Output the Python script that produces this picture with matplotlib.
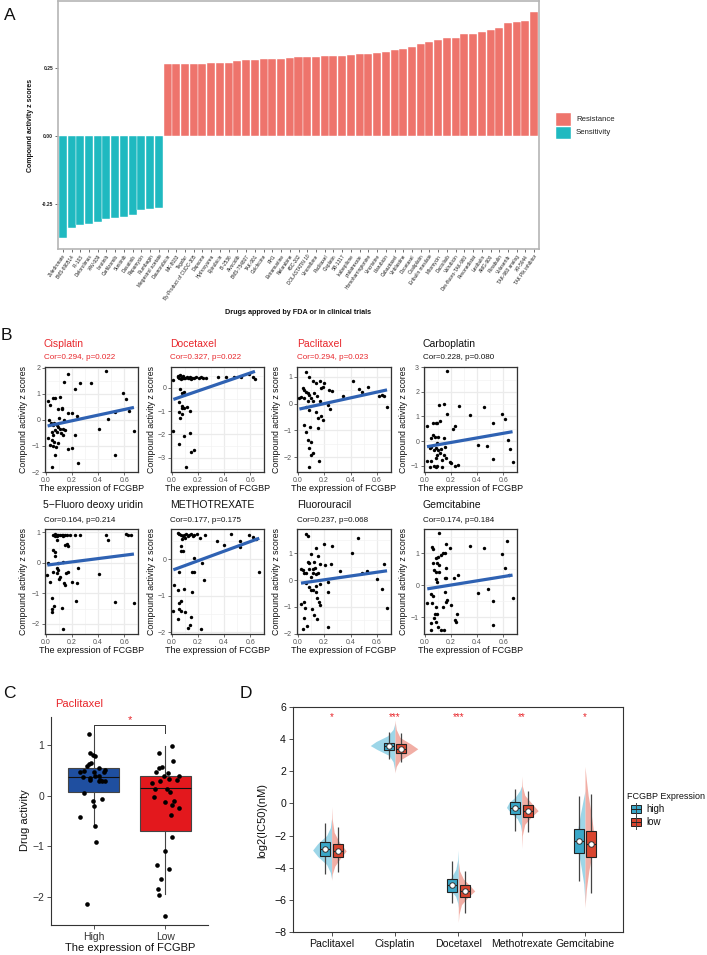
import numpy as np
import matplotlib
matplotlib.use('Agg')
import matplotlib.pyplot as plt
from matplotlib.patches import Rectangle
from matplotlib.ticker import MultipleLocator

plt.rcParams['font.family'] = ['Liberation Sans', 'DejaVu Sans']

# ---------------- DATA ----------------
# Panel A
sens_drugs = ["Zoledronate", "BMS-690514", "PI-103", "Deforolimus", "XAV-939", "Ibrutinib",
              "Carfilzomib", "Sunitinib", "Dasatinib", "Rapamycin", "Plumbagin", "Megestrol acetate"]
sens_vals = [-0.377, -0.340, -0.328, -0.324, -0.316, -0.306, -0.303, -0.298, -0.291, -0.274, -0.271, -0.267]
res_drugs = ["Daunorubicin", "MK-8033", "Tegafur", "By-Product of CUDC-305", "Dapsone", "Hydroxyurea",
             "Epirubicin", "BI-2536", "Alvocidib", "BMS-754807", "TAK-901", "Colchicine", "RH1",
             "Estramustine", "Nelarabine", "4SC-202", "DOLASTATIN 10", "Vinorelbine", "Paclitaxel",
             "Cisplatin", "SB-1317", "Ixabepilone", "pralatrexate", "Homoharringtonine", "Vincristine",
             "Idarubicin", "Cabazitaxel", "Vinblastine", "Docetaxel", "Oxaliplatin", "Eribulin mesilate",
             "Mitomycin", "Dactolisib", "Valrubicin", "Des-fluoro-TAK-960", "Pevonedistat", "Lexibulin",
             "AMG-900", "Plinabulin", "Volasertib", "TAK-960 analog", "XR-5944", "TAK Plk inhibitor"]
res_vals = [0.262, 0.262, 0.263, 0.263, 0.265, 0.266, 0.267, 0.268, 0.276, 0.278, 0.278, 0.281, 0.281,
            0.281, 0.284, 0.289, 0.289, 0.290, 0.293, 0.293, 0.294, 0.297, 0.299, 0.301, 0.303, 0.309,
            0.315, 0.317, 0.325, 0.336, 0.344, 0.350, 0.359, 0.360, 0.373, 0.374, 0.380, 0.390, 0.395,
            0.413, 0.417, 0.422, 0.453]

# Panel B (x = FCGBP expression, y = compound activity z score)
cis_pts = [(0.173,1.76),(0.142,1.44),(0.46,1.86),(0.262,1.40),(0.343,1.43),(0.224,1.17),(0.015,0.74),
           (0.058,0.83),(0.071,0.85),(0.109,0.89),(0.033,0.57),(0.097,0.42),(0.122,0.45),(0.127,0.42),
           (0.173,0.28),(0.198,0.28),(0.104,0.08),(0.142,0.0),(0.236,0.15),(0.028,0.01),(0.041,-0.11),
           (0.066,-0.11),(0.058,-0.2),(0.084,-0.2),(0.091,-0.29),(0.109,-0.35),(0.135,-0.35),(0.147,-0.39),
           (0.071,-0.39),(0.046,-0.45),(0.084,-0.45),(0.117,-0.52),(0.058,-0.58),(0.135,-0.58),(0.224,-0.59),
           (0.015,-0.71),(0.046,-0.77),(0.066,-0.84),(0.097,-0.9),(0.033,-0.96),(0.058,-1.0),(0.076,-1.05),
           (0.168,-1.10),(0.198,-1.06),(0.071,-1.35),(0.407,-0.35),(0.478,0.03),(0.529,0.30),(0.592,1.04),
           (0.613,0.79),(0.636,0.34),(0.674,-0.41),(0.529,-1.35),(0.249,-1.67),(0.046,-1.79)]
doc_pts = [(0.013,0.33),(0.05,0.51),(0.066,0.54),(0.08,0.47),(0.09,0.5),(0.104,0.44),(0.117,0.47),
           (0.13,0.43),(0.142,0.47),(0.155,0.44),(0.168,0.43),(0.186,0.47),(0.206,0.44),(0.224,0.47),
           (0.242,0.44),(0.262,0.43),(0.35,0.47),(0.415,0.47),(0.478,0.47),(0.53,0.47),(0.593,0.57),
           (0.618,0.47),(0.636,0.36),(0.058,0.4),(0.071,0.36),(0.097,0.4),(0.084,0.43),(0.046,0.47),
           (0.122,0.4),(0.147,0.39),(0.064,-0.07),(0.079,-0.24),(0.092,-0.2),(0.058,-0.6),(0.076,-0.79),
           (0.092,-0.86),(0.079,-0.86),(0.117,-0.84),(0.053,-1.06),(0.14,-1.0),(0.066,-1.29),(0.079,-1.14),
           (0.013,-1.86),(0.092,-2.07),(0.142,-1.96),(0.058,-2.41),(0.147,-2.74),(0.168,-2.67),(0.109,-3.39)]
pac_pts = [(0.064,1.2),(0.14,0.79),(0.089,0.99),(0.115,0.86),(0.165,0.86),(0.2,0.79),(0.19,0.64),
           (0.173,0.58),(0.24,0.51),(0.26,0.49),(0.34,0.29),(0.415,0.85),(0.46,0.54),(0.038,0.58),
           (0.05,0.51),(0.064,0.45),(0.076,0.39),(0.089,0.33),(0.025,0.26),(0.013,0.2),(0.05,0.2),
           (0.102,0.2),(0.127,0.41),(0.145,0.29),(0.076,0.1),(0.115,0.11),(0.165,0.1),(0.229,-0.05),
           (0.242,-0.21),(0.064,-0.13),(0.089,-0.23),(0.14,-0.3),(0.173,-0.46),(0.153,-0.54),(0.19,-0.61),
           (0.05,-0.79),(0.094,-0.86),(0.064,-1.04),(0.076,-1.35),(0.102,-1.42),(0.089,-1.66),(0.102,-1.91),
           (0.115,-1.85),(0.153,-0.92),(0.16,-2.14),(0.084,-2.35),(0.534,0.62),(0.484,0.43),(0.618,0.30),
           (0.635,0.32),(0.653,0.30),(0.675,-0.11)]
carbo_pts = [(0.17,2.84),(0.144,1.51),(0.109,1.45),(0.17,1.1),(0.261,1.44),(0.347,1.05),(0.456,1.37),
             (0.59,1.1),(0.613,0.88),(0.524,0.72),(0.018,0.61),(0.063,0.72),(0.084,0.75),(0.096,0.75),
             (0.114,0.83),(0.235,0.63),(0.22,0.49),(0.063,0.24),(0.076,0.18),(0.051,0.11),(0.101,0.15),
             (0.144,0.13),(0.094,-0.1),(0.084,-0.3),(0.051,-0.23),(0.038,-0.3),(0.068,-0.36),(0.101,-0.36),
             (0.127,-0.34),(0.152,-0.26),(0.114,-0.5),(0.094,-0.57),(0.147,-0.57),(0.165,-0.7),(0.089,-0.7),
             (0.134,-0.77),(0.19,-0.84),(0.203,-0.91),(0.051,-0.8),(0.018,-0.81),(0.043,-1.04),(0.068,-1.02),
             (0.084,-1.04),(0.094,-1.02),(0.134,-1.04),(0.228,-1.0),(0.253,-0.97),(0.405,-0.18),(0.476,-0.2),
             (0.524,-0.75),(0.633,0.06),(0.651,-0.32),(0.671,-0.87)]
fdu_pts = [(0.058,0.91),(0.071,0.93),(0.084,0.91),(0.097,0.91),(0.109,0.91),(0.122,0.91),(0.135,0.91),
           (0.147,0.91),(0.160,0.91),(0.186,0.91),(0.224,0.91),(0.262,0.91),(0.46,0.91),(0.613,0.94),
           (0.631,0.91),(0.649,0.91),(0.071,0.88),(0.089,0.88),(0.131,0.88),(0.478,0.75),(0.089,0.75),
           (0.16,0.61),(0.173,0.55),(0.15,0.59),(0.058,0.42),(0.071,0.37),(0.071,0.23),(0.135,0.04),
           (0.097,-0.01),(0.02,-0.01),(0.058,-0.29),(0.084,-0.34),(0.097,-0.23),(0.168,-0.29),(0.155,-0.34),
           (0.249,-0.18),(0.089,-0.18),(0.013,-0.4),(0.033,-0.61),(0.104,-0.54),(0.109,-0.47),(0.142,-0.67),
           (0.198,-0.64),(0.236,-0.65),(0.147,-0.72),(0.407,-0.37),(0.046,-1.16),(0.231,-1.24),(0.046,-1.52),
           (0.046,-1.6),(0.066,-1.41),(0.122,-1.49),(0.529,-1.29),(0.674,-1.32),(0.135,-2.17)]
mtx_pts = [(0.046,0.71),(0.058,0.69),(0.071,0.67),(0.084,0.64),(0.097,0.67),(0.109,0.69),(0.122,0.64),
           (0.135,0.67),(0.147,0.69),(0.16,0.64),(0.173,0.67),(0.191,0.69),(0.219,0.58),(0.257,0.67),
           (0.343,0.51),(0.402,0.39),(0.455,0.69),(0.522,0.51),(0.522,0.33),(0.593,0.67),(0.618,0.62),
           (0.644,0.56),(0.079,0.55),(0.099,0.58),(0.074,0.37),(0.084,0.24),(0.071,0.24),(0.168,0.03),
           (0.058,-0.34),(0.155,-0.34),(0.168,-0.36),(0.232,-0.09),(0.249,-0.57),(0.669,-0.36),(0.02,-0.7),
           (0.046,-0.84),(0.097,-0.81),(0.155,-0.89),(0.071,-1.14),(0.058,-1.21),(0.013,-1.41),(0.058,-1.37),
           (0.071,-1.41),(0.099,-1.46),(0.147,-1.57),(0.046,-1.64),(0.122,-1.89),(0.14,-1.8),(0.224,-1.92)]
fu_pts = [(0.064,1.72),(0.076,1.66),(0.14,1.21),(0.196,1.34),(0.262,1.29),(0.102,0.96),(0.153,0.9),
          (0.076,0.69),(0.089,0.63),(0.127,0.66),(0.165,0.59),(0.204,0.56),(0.249,0.59),(0.025,0.4),
          (0.043,0.38),(0.089,0.4),(0.115,0.4),(0.132,0.44),(0.05,0.25),(0.064,0.28),(0.115,0.28),
          (0.102,0.13),(0.135,0.22),(0.153,0.25),(0.064,-0.12),(0.084,-0.25),(0.102,-0.35),(0.135,-0.21),
          (0.165,-0.16),(0.229,-0.08),(0.115,-0.37),(0.318,0.35),(0.148,-0.68),(0.158,-0.8),(0.17,-0.93),
          (0.14,-0.43),(0.025,-0.89),(0.05,-0.83),(0.059,-1.05),(0.107,-1.09),(0.127,-1.3),(0.145,-1.45),
          (0.05,-1.43),(0.068,-1.72),(0.043,-1.84),(0.229,-1.76),(0.229,-0.43),(0.407,1.0),(0.458,1.56),
          (0.484,0.25),(0.527,0.34),(0.598,0.03),(0.636,-0.34),(0.649,0.59),(0.675,-1.03)]
gem_pts = [(0.109,1.63),(0.058,1.21),(0.063,1.13),(0.165,1.28),(0.195,1.16),(0.347,1.23),(0.456,1.16),
           (0.628,1.4),(0.59,0.97),(0.613,0.55),(0.641,0.31),(0.084,0.84),(0.101,0.9),(0.127,0.95),
           (0.139,1.0),(0.152,1.0),(0.094,0.71),(0.109,0.64),(0.063,0.69),(0.068,0.48),(0.084,0.43),
           (0.106,0.41),(0.165,0.53),(0.089,0.19),(0.094,0.11),(0.152,0.22),(0.165,0.24),(0.223,0.22),
           (0.258,0.32),(0.02,-0.56),(0.051,-0.27),(0.063,-0.33),(0.152,-0.2),(0.058,-0.56),(0.084,-0.69),
           (0.139,-0.69),(0.17,-0.46),(0.16,-0.51),(0.198,-0.61),(0.076,-0.9),(0.094,-0.9),(0.246,-0.91),
           (0.071,-1.03),(0.084,-1.14),(0.228,-1.08),(0.241,-1.14),(0.051,-1.19),(0.101,-1.31),(0.046,-1.38),
           (0.127,-1.38),(0.147,-1.38),(0.405,-0.23),(0.481,-0.11),(0.524,-0.49),(0.524,-1.24),(0.671,-0.39)]

b_titles = ["Cisplatin", "Docetaxel", "Paclitaxel", "Carboplatin",
            "5\u2212Fluoro deoxy uridin", "METHOTREXATE", "Fluorouracil", "Gemcitabine"]
b_cor = ["Cor=0.294, p=0.022", "Cor=0.327, p=0.022", "Cor=0.294, p=0.023", "Cor=0.228, p=0.080",
         "Cor=0.164, p=0.214", "Cor=0.177, p=0.175", "Cor=0.237, p=0.068", "Cor=0.174, p=0.184"]
b_significant = [True, True, True, False, False, False, False, False]
fit_intercept = [-0.25, -0.525, -0.214, -0.247, -0.078, -0.307, -0.129, -0.123]
fit_slope = [1.08, 1.93, 1.08, 0.934, 0.546, 1.32, 0.71, 0.66]
b_ylims = [(-2.0, 2.03), (-3.61, 0.89), (-2.55, 1.37), (-1.26, 3.01),
           (-2.33, 1.11), (-2.05, 0.83), (-2.01, 1.91), (-1.52, 1.76)]

# Panel C
c_groups = ["High", "Low"]
c_q1 = [0.07, -0.70]
c_med = [0.37, 0.15]
c_q3 = [0.54, 0.39]
c_whislo = [-0.61, -1.94]
c_whishi = [1.21, 0.97]
c_high_pts = [(0.93,1.21),(0.95,0.85),(0.99,0.8),(1.01,0.78),(0.93,0.62),(0.96,0.64),(0.91,0.59),
              (1.07,0.54),(0.81,0.47),(0.86,0.49),(1.0,0.47),(1.16,0.51),(1.14,0.46),(0.85,0.36),
              (0.95,0.34),(1.01,0.39),(1.07,0.38),(0.94,0.3),(1.07,0.28),(1.12,0.28),(1.15,0.28),
              (1.09,0.31),(0.86,0.05),(0.99,-0.1),(1.12,-0.07),(1.0,-0.2),(0.8,-0.43),(1.01,-0.59),
              (1.03,-0.91),(0.91,-2.14)]
c_low_pts = [(2.1,0.97),(1.91,0.84),(2.11,0.68),(1.91,0.54),(1.95,0.56),(1.87,0.47),(2.04,0.44),
             (2.19,0.39),(1.98,0.38),(1.93,0.29),(2.06,0.32),(2.17,0.31),(1.82,0.24),(2.02,0.14),
             (1.86,0.13),(2.07,0.08),(1.85,-0.02),(2.12,-0.11),(2.0,-0.12),(2.09,-0.18),(2.2,-0.25),
             (2.08,-0.39),(2.1,-0.81),(2.0,-1.1),(1.89,-1.37),(2.06,-1.45),(1.94,-1.64),(1.9,-1.85),
             (1.92,-1.95),(2.0,-2.37)]

# Panel D
d_drugs = ["Paclitaxel", "Cisplatin", "Docetaxel", "Methotrexate", "Gemcitabine"]
d_sig = ["*", "***", "***", "**", "*"]
high_q1 = [-3.28, 3.31, -5.49, -0.68, -3.07]
high_mean = [-2.82, 3.58, -5.07, -0.27, -2.32]
high_q3 = [-2.39, 3.79, -4.70, 0.10, -1.62]
high_lo = [-4.39, 2.79, -6.21, -1.72, -4.81]
high_hi = [-1.20, 4.45, -3.56, 0.87, 0.45]
low_q1 = [-3.35, 3.14, -5.80, -0.83, -3.32]
low_mean = [-2.94, 3.41, -5.45, -0.44, -2.53]
low_q3 = [-2.55, 3.68, -5.07, -0.11, -1.72]
low_lo = [-4.25, 2.58, -6.83, -1.78, -5.55]
low_hi = [-1.45, 4.38, -4.19, 0.78, 0.58]
# half-violin profiles (y, half width)
viol_high = [
    [(-0.9,0),(-1.5,0.02),(-2.0,0.08),(-2.5,0.22),(-2.9,0.30),(-3.3,0.22),(-3.8,0.08),(-4.3,0.02),(-4.7,0)],
    [(5.0,0),(4.6,0.03),(4.2,0.12),(3.85,0.30),(3.6,0.39),(3.35,0.28),(3.0,0.10),(2.6,0.03),(2.0,0)],
    [(-2.9,0),(-3.5,0.01),(-4.1,0.04),(-4.6,0.11),(-5.0,0.18),(-5.4,0.12),(-5.8,0.04),(-6.2,0.01),(-6.5,0)],
    [(1.1,0),(0.8,0.03),(0.4,0.10),(0.05,0.20),(-0.25,0.24),(-0.6,0.17),(-0.95,0.07),(-1.35,0.02),(-1.8,0)],
    [(0.8,0),(0.2,0.03),(-0.6,0.07),(-1.5,0.11),(-2.3,0.13),(-3.1,0.10),(-4.0,0.06),(-5.0,0.02),(-6.2,0)],
]
viol_low = [
    [(-0.2,0),(-1.0,0.01),(-1.8,0.04),(-2.4,0.12),(-2.95,0.23),(-3.4,0.14),(-3.9,0.05),(-4.4,0.01),(-4.8,0)],
    [(5.2,0),(4.6,0.02),(4.1,0.08),(3.7,0.25),(3.4,0.36),(3.1,0.25),(2.7,0.08),(2.3,0.02),(1.9,0)],
    [(-3.6,0),(-4.2,0.02),(-4.7,0.08),(-5.1,0.18),(-5.45,0.26),(-5.8,0.16),(-6.3,0.05),(-6.9,0.01),(-7.4,0)],
    [(1.7,0),(1.1,0.01),(0.5,0.05),(0.0,0.16),(-0.45,0.26),(-0.85,0.15),(-1.3,0.05),(-2.0,0.01),(-2.8,0)],
    [(2.3,0),(1.5,0.02),(0.5,0.05),(-0.7,0.10),(-1.9,0.14),(-3.0,0.12),(-4.2,0.06),(-5.4,0.02),(-6.5,0)],
]

# ---------------- FIGURE ----------------
W, H = 707, 955
fig = plt.figure(figsize=(W / 100, H / 100), dpi=100)


def add_ax(x0, y0, x1, y1):
    return fig.add_axes([x0 / W, 1 - y1 / H, (x1 - x0) / W, (y1 - y0) / H])


RED_A, TEAL_A = '#EE746C', '#1FB9C0'
SIGRED = '#E8262B'

# ---- Panel A ----
axA = add_ax(58, 1.5, 539, 249)
vals = np.array(sens_vals + res_vals)
names = sens_drugs + res_drugs
cols = [TEAL_A] * len(sens_vals) + [RED_A] * len(res_vals)
xs = np.arange(len(vals))
axA.bar(xs, vals, width=0.92, color=cols, edgecolor='white', linewidth=0.3)
axA.set_xlim(-0.55, len(vals) - 0.45)
axA.set_ylim(-0.4165, 0.493)
axA.set_yticks([-0.25, 0, 0.25])
axA.set_yticklabels(['-0.25', '0.00', '0.25'], fontsize=3.6, fontweight='bold', color='#222222')
axA.set_xticks(xs)
axA.set_xticklabels(names, rotation=55, ha='right', va='top', rotation_mode='anchor',
                    fontsize=3.4, color='#1A1A1A')
axA.tick_params(axis='both', length=2, width=0.5, color='#333333', pad=1.5)
for s in axA.spines.values():
    s.set_color('#B5B5B5')
    s.set_linewidth(1.2)

# ---- Panel B ----
b_sets = [cis_pts, doc_pts, pac_pts, carbo_pts, fdu_pts, mtx_pts, fu_pts, gem_pts]
col_x = [(45, 138), (171, 264), (297, 391), (424, 517)]
row_y = [(367, 472), (529, 634)]
title_y = [344, 505]
cor_y = [357.3, 520]
for i, pts in enumerate(b_sets):
    r, c = divmod(i, 4)
    x0, x1 = col_x[c]
    y0, y1 = row_y[r]
    ax = add_ax(x0, y0, x1, y1)
    arr = np.array(pts)
    ax.set_axisbelow(True)
    ax.grid(True, which='major', color='#EBEBEB', lw=0.9)
    ax.grid(True, which='minor', color='#F3F3F3', lw=0.5)
    ax.scatter(arr[:, 0], arr[:, 1], s=6, color='black', linewidths=0, zorder=3)
    lx = np.array([arr[:, 0].min(), arr[:, 0].max()])
    ax.plot(lx, fit_intercept[i] + fit_slope[i] * lx, color='#2F62B3', lw=2.3,
            solid_capstyle='butt', zorder=4)
    ax.set_xlim(-0.005, 0.705)
    ax.set_ylim(*b_ylims[i])
    ax.set_xticks([0, 0.2, 0.4, 0.6])
    ax.set_xticklabels(['0.0', '0.2', '0.4', '0.6'])
    ax.yaxis.set_major_locator(MultipleLocator(1))
    ax.yaxis.set_minor_locator(MultipleLocator(0.5))
    ax.xaxis.set_minor_locator(MultipleLocator(0.1))
    ax.tick_params(which='major', length=2, width=0.5, color='#333333', labelsize=5,
                   labelcolor='#555555', pad=1.5)
    ax.tick_params(which='minor', length=0)
    for s in ax.spines.values():
        s.set_color('#333333')
        s.set_linewidth(0.9)

# ---- Panel C ----
axC = add_ax(51, 717, 208, 925)
statsC = [dict(med=c_med[k], q1=c_q1[k], q3=c_q3[k], whislo=c_whislo[k], whishi=c_whishi[k],
               fliers=[], label=c_groups[k]) for k in range(2)]
bpC = axC.bxp(statsC, positions=[1, 2], widths=0.71, patch_artist=True, showfliers=False,
              showcaps=False,
              boxprops=dict(edgecolor='#444444', linewidth=0.8),
              medianprops=dict(color='#111111', linewidth=0.8),
              whiskerprops=dict(color='#444444', linewidth=0.8))
for patch, fc in zip(bpC['boxes'], ['#1F4FA0', '#E3181D']):
    patch.set_facecolor(fc)
for pts in (c_high_pts, c_low_pts):
    a = np.array(pts)
    axC.scatter(a[:, 0], a[:, 1], s=11, color='black', linewidths=0, zorder=5)
axC.set_xlim(0.4, 2.6)
axC.set_ylim(-2.55, 1.55)
axC.set_yticks([-2, -1, 0, 1])
axC.set_xticks([1, 2])
axC.set_xticklabels(c_groups)
axC.tick_params(length=3, width=0.6, color='#333333', labelsize=7.5, labelcolor='#333333', pad=2)
for s in ['top', 'right']:
    axC.spines[s].set_visible(False)
for s in ['left', 'bottom']:
    axC.spines[s].set_color('#333333')
    axC.spines[s].set_linewidth(0.8)
# significance bracket
axC.plot([1, 1, 2, 2], [1.24, 1.39, 1.39, 1.24], color='#333333', lw=0.7, clip_on=False)
axC.text(1.5, 1.40, '*', color=SIGRED, fontsize=8, ha='center', va='bottom')

# ---- Panel D ----
axD = add_ax(293, 707, 623, 932)
BLUE_BOX, RED_BOX = '#3AA7C8', '#D9452F'
BLUE_V, RED_V = '#93D2E6', '#F0A59B'
for k in range(len(d_drugs)):
    c = k + 1
    vh = np.array(viol_high[k])
    vl = np.array(viol_low[k])
    axD.fill_betweenx(vh[:, 0], c - vh[:, 1], c, color=BLUE_V, lw=0, alpha=0.9, zorder=1)
    axD.fill_betweenx(vl[:, 0], c, c + vl[:, 1], color=RED_V, lw=0, alpha=0.9, zorder=1)
    axD.text(c, 5.38, d_sig[k], color=SIGRED, fontsize=7, ha='center', va='center')
pos_h = np.arange(1, len(d_drugs) + 1) - 0.1
pos_l = np.arange(1, len(d_drugs) + 1) + 0.1
axD.vlines(pos_h, high_lo, high_hi, color='#444444', lw=0.9, zorder=2)
axD.vlines(pos_l, low_lo, low_hi, color='#444444', lw=0.9, zorder=2)
statsH = [dict(med=high_mean[k], q1=high_q1[k], q3=high_q3[k], whislo=high_q1[k], whishi=high_q3[k],
               fliers=[]) for k in range(5)]
statsL = [dict(med=low_mean[k], q1=low_q1[k], q3=low_q3[k], whislo=low_q1[k], whishi=low_q3[k],
               fliers=[]) for k in range(5)]
for st, pos, fc in ((statsH, pos_h, BLUE_BOX), (statsL, pos_l, RED_BOX)):
    bp = axD.bxp(st, positions=pos, widths=0.16, patch_artist=True, showfliers=False,
                 showcaps=False, manage_ticks=False,
                 boxprops=dict(edgecolor='#222222', linewidth=0.8, facecolor=fc),
                 medianprops=dict(color='#222222', linewidth=0.8),
                 whiskerprops=dict(linewidth=0))
    for b in bp['boxes']:
        b.set_zorder(3)
    for m in bp['medians']:
        m.set_zorder(3)
axD.plot(pos_h, high_mean, 'o', ms=4, mfc='white', mec='#333333', mew=0.7, zorder=4)
axD.plot(pos_l, low_mean, 'o', ms=4, mfc='white', mec='#333333', mew=0.7, zorder=4)
axD.set_xlim(0.39, 5.6)
axD.set_ylim(-8, 6)
axD.set_yticks(np.arange(-8, 7, 2))
axD.set_xticks(np.arange(1, 6))
axD.set_xticklabels(d_drugs)
axD.tick_params(length=3, width=0.6, color='#333333', labelsize=7.6, labelcolor='#111111', pad=2)
for s in axD.spines.values():
    s.set_color('#333333')
    s.set_linewidth(0.8)

# ---- Overlay for annotations ----
ov = fig.add_axes([0, 0, 1, 1])
ov.set_xlim(0, W)
ov.set_ylim(H, 0)
ov.axis('off')
ov.patch.set_alpha(0)

# panel letters
for L, (x, y) in zip("ABCD", [(4, 15), (1, 335), (3, 693), (240, 693)]):
    ov.text(x, y, L, fontsize=12.5, ha='left', va='center', color='#111111')

# A labels and legend
ov.text(298, 312, "Drugs approved by FDA or in clinical trials", fontsize=5.2, fontweight='bold',
        ha='center', va='center', color='#111111')
ov.text(30, 125.5, "Compound activity z scores", fontsize=5.0, fontweight='bold', rotation=90,
        ha='center', va='center', color='#111111')
ov.add_patch(Rectangle((556, 113.3), 14.7, 12.7, facecolor=RED_A, edgecolor='white', lw=0.3))
ov.add_patch(Rectangle((556, 126.7), 14.7, 12.7, facecolor=TEAL_A, edgecolor='white', lw=0.3))
ov.text(576, 119.7, "Resistance", fontsize=5.6, ha='left', va='center', color='#222222')
ov.text(576, 133.0, "Sensitivity", fontsize=5.6, ha='left', va='center', color='#222222')

# B titles / labels
title_x = [43.3, 170, 296.7, 422.7]
ylab_x = [24, 151.7, 276.7, 403.3]
for i in range(8):
    r, c = divmod(i, 4)
    colr = SIGRED if b_significant[i] else '#111111'
    ov.text(title_x[c], title_y[r], b_titles[i], fontsize=7.5, ha='left', va='center', color=colr)
    ov.text(title_x[c] + 0.5, cor_y[r], b_cor[i], fontsize=5.8, ha='left', va='center', color=colr)
    x0, x1 = col_x[c]
    y0, y1 = row_y[r]
    ov.text((x0 + x1) / 2, y1 + 16, "The expression of FCGBP", fontsize=6.5, ha='center',
            va='center', color='#111111')
    ov.text(ylab_x[c], (y0 + y1) / 2, "Compound activity z scores", fontsize=6.3, rotation=90,
            ha='center', va='center', color='#111111')

# C labels
ov.text(55, 704, "Paclitaxel", fontsize=8, color=SIGRED, ha='left', va='center')
ov.text(25, 820, "Drug activity", fontsize=8, rotation=90, ha='center', va='center', color='#111111')
ov.text(130, 948, "The expression of FCGBP", fontsize=8, ha='center', va='center', color='#111111')

# D labels and legend
ov.text(262, 820, "log2(IC50)(nM)", fontsize=8, rotation=90, ha='center', va='center', color='#111111')
ov.text(627, 796, "FCGBP Expression", fontsize=6.5, ha='left', va='center', color='#111111')
for yk, fc, lab in ((809.3, BLUE_BOX, "high"), (822.0, RED_BOX, "low")):
    ov.plot([635.7, 635.7], [yk - 6.5, yk + 6.5], color='#444444', lw=0.7)
    ov.add_patch(Rectangle((630.5, yk - 4), 10.5, 8, facecolor=fc, edgecolor='#222222', lw=0.7))
    ov.plot([630.5, 641], [yk, yk], color='#222222', lw=0.7)
    ov.text(646, yk, lab, fontsize=7.0, ha='left', va='center', color='#111111')

fig.savefig('out.png', dpi=100)
